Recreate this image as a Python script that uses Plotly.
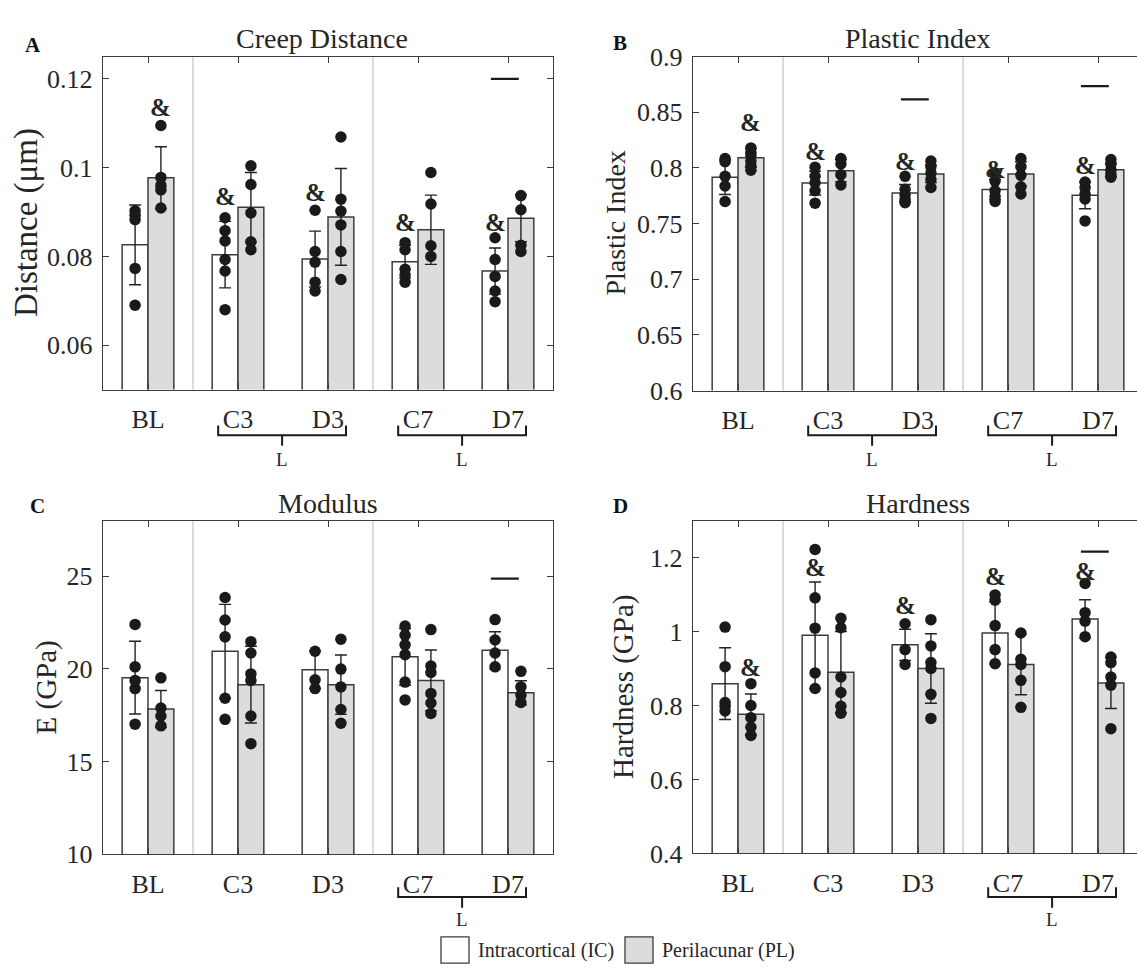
import plotly.graph_objects as go

# ---------------- DATA ----------------
categories = ["BL", "C3", "D3", "C7", "D7"]
series_names = ["Intracortical (IC)", "Perilacunar (PL)"]

# Panel A: Creep Distance (um)
creep_ic_mean = [0.0826, 0.0804, 0.0794, 0.0788, 0.0767]
creep_ic_sd = [0.0090, 0.0075, 0.0063, 0.0037, 0.0052]
creep_pl_mean = [0.0977, 0.0911, 0.0889, 0.0860, 0.0886]
creep_pl_sd = [0.0070, 0.0078, 0.0109, 0.0078, 0.0053]
creep_ic_pts = [[0.0903, 0.0893, 0.0883, 0.0773, 0.0690],
                [0.0887, 0.0858, 0.0835, 0.0793, 0.0767, 0.0680],
                [0.0904, 0.0811, 0.0787, 0.0742, 0.0722],
                [0.0831, 0.0815, 0.0771, 0.0758, 0.0742],
                [0.0842, 0.0793, 0.0755, 0.0722, 0.0698]]
creep_pl_pts = [[0.1095, 0.0978, 0.0960, 0.0950, 0.0909],
                [0.1004, 0.0962, 0.0898, 0.0833, 0.0815],
                [0.1069, 0.0929, 0.0902, 0.0871, 0.0811, 0.0748],
                [0.0989, 0.0918, 0.0824, 0.0800],
                [0.0937, 0.0905, 0.0825, 0.0811]]

# Panel B: Plastic Index
pi_ic_mean = [0.7917, 0.7864, 0.7775, 0.7806, 0.7754]
pi_ic_sd = [0.0155, 0.0107, 0.0077, 0.0090, 0.0120]
pi_pl_mean = [0.8091, 0.7975, 0.7946, 0.7946, 0.7983]
pi_pl_sd = [0.0085, 0.0100, 0.0078, 0.0110, 0.0060]
pi_ic_pts = [[0.8085, 0.8056, 0.7925, 0.7838, 0.7699],
             [0.8007, 0.7925, 0.7867, 0.7795, 0.7684],
             [0.7925, 0.7809, 0.7757, 0.7716, 0.7687],
             [0.7954, 0.7882, 0.7795, 0.7743, 0.7699],
             [0.7873, 0.7824, 0.7766, 0.7722, 0.7524]]
pi_pl_pts = [[0.8180, 0.8140, 0.8110, 0.8060, 0.8020, 0.7980],
             [0.8085, 0.8036, 0.7940, 0.7847],
             [0.8062, 0.8012, 0.7954, 0.7896, 0.7824],
             [0.8085, 0.8012, 0.7934, 0.7831, 0.7766],
             [0.8076, 0.8033, 0.7983, 0.7946, 0.7917]]

# Panel C: Modulus E (GPa)
mod_ic_mean = [19.53, 20.95, 19.95, 20.65, 21.00]
mod_ic_sd = [1.96, 2.53, 1.00, 1.53, 1.00]
mod_pl_mean = [17.84, 19.15, 19.15, 19.38, 18.71]
mod_pl_sd = [1.00, 2.07, 1.60, 1.64, 0.65]
mod_ic_pts = [[22.40, 20.11, 19.38, 18.94, 17.02],
              [23.85, 22.64, 21.73, 18.42, 17.28],
              [20.95, 19.41, 18.94],
              [22.31, 21.82, 21.30, 20.77, 19.29, 18.33],
              [22.66, 21.56, 20.86, 20.11]]
mod_pl_pts = [[19.52, 17.89, 17.46, 16.93],
              [21.47, 20.86, 19.73, 19.38, 17.46, 15.97],
              [21.60, 19.99, 19.03, 17.81, 17.07],
              [22.12, 20.16, 19.81, 18.68, 18.16, 17.60],
              [19.87, 19.03, 18.59, 18.19]]

# Panel D: Hardness (GPa)
hard_ic_mean = [0.859, 0.990, 0.964, 0.996, 1.034]
hard_ic_sd = [0.097, 0.144, 0.042, 0.084, 0.052]
hard_pl_mean = [0.776, 0.890, 0.900, 0.911, 0.861]
hard_pl_sd = [0.055, 0.110, 0.094, 0.082, 0.069]
hard_ic_pts = [[1.012, 0.905, 0.808, 0.798, 0.785],
               [1.222, 1.091, 1.009, 0.888, 0.846],
               [1.021, 0.951, 0.911],
               [1.099, 1.085, 1.016, 0.951, 0.913],
               [1.130, 1.051, 1.028, 0.986]]
hard_pl_pts = [[0.859, 0.800, 0.767, 0.741, 0.719],
               [1.036, 1.010, 0.877, 0.835, 0.798, 0.779],
               [1.032, 0.961, 0.916, 0.900, 0.830, 0.765],
               [0.996, 0.925, 0.911, 0.868, 0.795],
               [0.931, 0.916, 0.877, 0.855, 0.737]]

# "&" markers: (category index, series 0=IC 1=PL, y)
creep_amp = [(0, 1, 0.1135), (1, 0, 0.0935), (2, 0, 0.0945), (3, 0, 0.0876), (4, 0, 0.0876)]
pi_amp = [(0, 1, 0.8410), (1, 0, 0.8148), (2, 0, 0.8060), (3, 0, 0.7988), (4, 0, 0.8023)]
mod_amp = []
hard_amp = [(0, 1, 0.904), (1, 0, 1.172), (2, 0, 1.071), (3, 0, 1.149), (4, 0, 1.1625)]

# significance bars: (category index, y)
creep_sig = [(4, 0.1200)]
pi_sig = [(2, 0.8616), (4, 0.8735)]
mod_sig = [(4, 24.87)]
hard_sig = [(4, 1.216)]

# "L" brackets: pairs of category indices
creep_brackets = [(1, 2), (3, 4)]
pi_brackets = [(1, 2), (3, 4)]
mod_brackets = [(3, 4)]
hard_brackets = [(3, 4)]

titles = ["Creep Distance", "Plastic Index", "Modulus", "Hardness"]
ylabels = ["Distance (\u03bcm)", "Plastic Index", "E (GPa)", "Hardness (GPa)"]
letters = ["A", "B", "C", "D"]
yranges = [[0.05, 0.125], [0.6, 0.9], [10, 28], [0.4, 1.3]]
ytickvals = [[0.06, 0.08, 0.1, 0.12], [0.6, 0.65, 0.7, 0.75, 0.8, 0.85, 0.9],
             [10, 15, 20, 25], [0.4, 0.6, 0.8, 1.0, 1.2]]
yticktext = [["0.06", "0.08", "0.1", "0.12"], ["0.6", "0.65", "0.7", "0.75", "0.8", "0.85", "0.9"],
             ["10", "15", "20", "25"], ["0.4", "0.6", "0.8", "1", "1.2"]]

# ---------------- STYLE / LAYOUT ----------------
W, H = 1137, 980
FONT = "Liberation Serif, Times New Roman, serif"
TXT = "#262626"
EDGE = "#3c3c3c"
PL_FILL = "#dcdcdc"
BW = 0.287          # bar width (category units)
OFF = BW / 2

# pixel boxes for each panel: (left, right, top, bottom)
boxes = [(103, 553, 44, 387), (693, 1143, 44, 388), (103, 553, 522, 866), (693, 1143, 522, 865)]
bracket_y = [434, 434, 910, 910]
L_y = [459, 459, 933, 933]
title_y = [25, 25, 504, 504]
title_x = [322, 918, 328, 918]
letter_pos = [(33, 32), (620, 30), (37, 507), (620, 507)]
ylab_x = [26, 616, 46, 624]
ylab_size = [33, 28, 29, 29]

panels = [
    (creep_ic_mean, creep_ic_sd, creep_pl_mean, creep_pl_sd, creep_ic_pts, creep_pl_pts, creep_amp, creep_sig, creep_brackets),
    (pi_ic_mean, pi_ic_sd, pi_pl_mean, pi_pl_sd, pi_ic_pts, pi_pl_pts, pi_amp, pi_sig, pi_brackets),
    (mod_ic_mean, mod_ic_sd, mod_pl_mean, mod_pl_sd, mod_ic_pts, mod_pl_pts, mod_amp, mod_sig, mod_brackets),
    (hard_ic_mean, hard_ic_sd, hard_pl_mean, hard_pl_sd, hard_ic_pts, hard_pl_pts, hard_amp, hard_sig, hard_brackets),
]

fig = go.Figure()
shapes = []
annotations = []
layout_axes = {}
pos = list(range(1, len(categories) + 1))


def py(p):
    return 1 - p / H


def note(x, y, text, size, xref="paper", yref="paper", **kw):
    d = dict(xref=xref, yref=yref, x=x, y=y, text=text, showarrow=False,
             xanchor="center", yanchor="middle", font=dict(family=FONT, size=size, color=TXT))
    d.update(kw)
    annotations.append(d)


for k, (icm, icsd, plm, plsd, icp, plp, amps, sigs, brs) in enumerate(panels):
    sfx = "" if k == 0 else str(k + 1)
    xa, ya = "x" + sfx, "y" + sfx
    left, right, top, bottom = boxes[k]
    spacing = (right - left) / 5.0
    xr_right = 0.5 + (min(right, W) - left) / spacing
    clipped = right > W

    for s, (means, sds, fill) in enumerate([(icm, icsd, "white"), (plm, plsd, PL_FILL)]):
        xs = [p + (-OFF if s == 0 else OFF) for p in pos]
        fig.add_trace(go.Bar(
            x=xs, y=means, width=[BW] * len(xs), xaxis=xa, yaxis=ya,
            marker=dict(color=fill, line=dict(color=EDGE, width=1.5)),
            error_y=dict(type="data", array=sds, visible=True, color="#222222", thickness=1.4, width=6),
            name=series_names[s], showlegend=False, hoverinfo="skip"))
    for s, pts in enumerate([icp, plp]):
        xs, ys = [], []
        for i, vals in enumerate(pts):
            for v in vals:
                xs.append(pos[i] + (-OFF if s == 0 else OFF))
                ys.append(v)
        fig.add_trace(go.Scatter(x=xs, y=ys, mode="markers", xaxis=xa, yaxis=ya,
                                 marker=dict(color="#1a1a1a", size=11.5),
                                 showlegend=False, hoverinfo="skip"))

    layout_axes["xaxis" + sfx] = dict(
        domain=[left / W, min(right, W) / W], range=[0.5, xr_right], anchor=ya,
        tickvals=pos, ticktext=categories, ticks="inside", ticklen=6, tickwidth=1.2,
        tickcolor=EDGE, showline=True, linecolor=EDGE, linewidth=1.4, mirror="ticks",
        showgrid=False, zeroline=False, ticklabelstandoff=6,
        tickfont=dict(family=FONT, size=26, color=TXT))
    layout_axes["yaxis" + sfx] = dict(
        domain=[py(bottom), py(top)], range=yranges[k], anchor=xa,
        tickvals=ytickvals[k], ticktext=yticktext[k], ticks="inside", ticklen=6, tickwidth=1.2,
        tickcolor=EDGE, showline=True, linecolor=EDGE, linewidth=1.4,
        mirror=False if clipped else "ticks", showgrid=False, zeroline=False,
        ticklabelstandoff=4, tickfont=dict(family=FONT, size=26, color=TXT))

    for sx in [1.5, 3.5]:
        shapes.append(dict(type="line", xref=xa, yref=ya + " domain", x0=sx, x1=sx, y0=0, y1=1,
                           line=dict(color="#cfcfcf", width=1.5), layer="below"))
    for ci, yv in sigs:
        shapes.append(dict(type="line", xref=xa, yref=ya, x0=pos[ci] - 0.19, x1=pos[ci] + 0.12,
                           y0=yv, y1=yv, line=dict(color="#1a1a1a", width=2.2)))
    for ci, s, yv in amps:
        note(pos[ci] + (-OFF if s == 0 else OFF), yv, "<b>&</b>", 25, xref=xa, yref=ya)
    for a, b in brs:
        x0, x1 = pos[a] - 0.22, pos[b] + 0.2
        xm = (x0 + x1) / 2
        yb, yt, yd = py(bracket_y[k]), py(bracket_y[k] - 10), py(bracket_y[k] + 11)
        shapes.append(dict(type="path", xref=xa, yref="paper",
                           path=f"M {x0},{yt} L {x0},{yb} L {x1},{yb} L {x1},{yt} M {xm},{yb} L {xm},{yd}",
                           line=dict(color="#1a1a1a", width=2)))
        note(xm, py(L_y[k]), "L", 19, xref=xa)
    note(title_x[k] / W, py(title_y[k]), titles[k], 28)
    note(ylab_x[k] / W, py((top + bottom) / 2), ylabels[k], ylab_size[k], textangle=-90)
    annotations.append(dict(xref="paper", yref="paper", x=letter_pos[k][0] / W, y=py(letter_pos[k][1]),
                            text="<b>" + letters[k] + "</b>", showarrow=False,
                            xanchor="center", yanchor="middle",
                            font=dict(family=FONT, size=21, color="#111111")))

leg_items = [(441, series_names[0], "white"), (625, series_names[1], PL_FILL)]
for x0, name, fill in leg_items:
    shapes.append(dict(type="rect", xref="paper", yref="paper", x0=x0 / W, x1=(x0 + 28) / W,
                       y0=py(978), y1=py(951), fillcolor=fill, line=dict(color=EDGE, width=1.3)))
    note((x0 + 35) / W, py(965), name, 20, xanchor="left")

fig.update_layout(
    width=W, height=H, margin=dict(l=0, r=0, t=0, b=0),
    paper_bgcolor="white", plot_bgcolor="white", barmode="overlay",
    shapes=shapes, annotations=annotations, **layout_axes)

fig.write_html("out.html")
